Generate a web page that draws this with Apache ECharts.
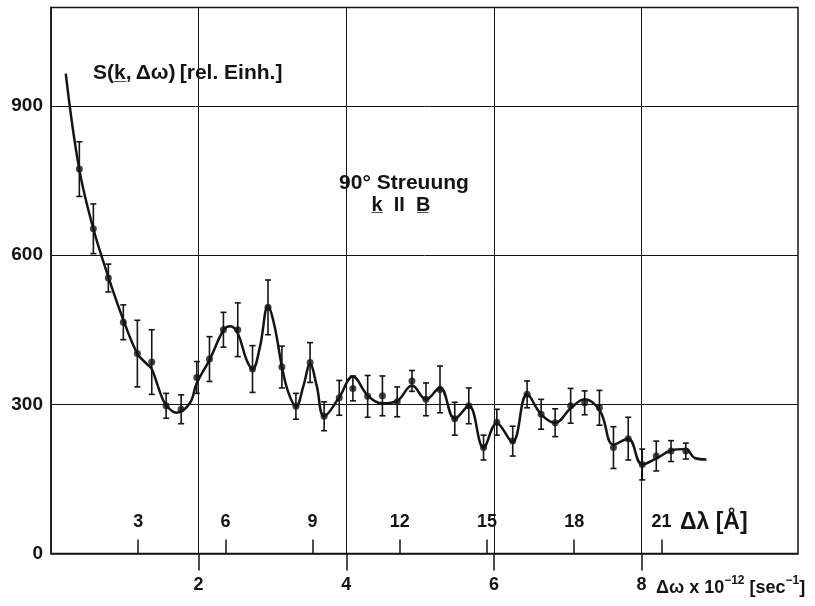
<!DOCTYPE html>
<html><head><meta charset="utf-8">
<script src="https://cdn.jsdelivr.net/npm/echarts@6/dist/echarts.min.js"></script>
<style>html,body{margin:0;padding:0;background:#fff}#c{width:815px;height:606px}</style>
</head><body><div id="c"></div>
<script>
// Measured points (Δω ×10^12 s^-1, S in rel. units, ± error)
const pointX = [0.384,0.574,0.777,0.98,1.17,1.365,1.56,1.763,1.975,2.147,2.336,2.53,2.73,2.94,3.128,3.318,3.51,3.70,3.905,4.09,4.29,4.49,4.69,4.89,5.08,5.27,5.47,5.66,5.86,6.04,6.255,6.45,6.64,6.83,7.04,7.23,7.43,7.62,7.82,8.01,8.20,8.40,8.60];
const pointY = [773,653,554,465,402,385,297,290,354,391,450,450,371,495,375,296,384,276,313,332,316,317,305,347,310,330,271,297,213,264,226,320,280,263,297,303,293,213,231,179,196,206,206];
const pointErr = [55,50,28,35,67,65,25,29,32,45,35,54,47,55,42,26,40,29,35,25,42,40,30,21,33,47,33,36,25,26,30,27,30,28,35,24,35,42,43,31,30,21,16];
// Hand-drawn fitted curve
const curveX = [0.20,0.38,0.57,0.78,0.98,1.17,1.30,1.365,1.48,1.56,1.70,1.88,1.975,2.15,2.34,2.43,2.53,2.65,2.73,2.83,2.94,3.03,3.13,3.22,3.32,3.42,3.51,3.60,3.70,3.90,4.09,4.29,4.49,4.69,4.89,5.08,5.27,5.47,5.66,5.86,6.04,6.25,6.45,6.64,6.83,7.04,7.23,7.44,7.62,7.82,8.01,8.21,8.40,8.60,8.72,8.88];
const curveY = [965,775,655,555,470,402,381,371,323,298,283,302,343,390,450,457,443,389,371,415,497,456,374,322,296,337,381,337,276,313,356,318,302,307,338,310,334,271,297,213,262,224,320,280,263,292,310,286,219,231,179,192,207,210,192,189];
// Axis ticks
const omegaTicks = [2,4,6,8];
const lambdaTicks = [3,6,9,12,15,18,21];
const yTicks = [0,300,600,900];

const INK = '#141414';
const FONT = '"Liberation Sans", Arial, sans-serif';
const chart = echarts.init(document.getElementById('c'), null, {renderer:'canvas'});
const option = {
  backgroundColor:'#ffffff',
  animation:false,
  grid:{left:51,right:17,top:7.5,bottom:52.5,show:true,borderColor:INK,borderWidth:1.5,backgroundColor:'transparent'},
  xAxis:[
    {type:'value',min:0,max:10.12,interval:2,position:'bottom',
     axisLine:{show:true,onZero:false,lineStyle:{color:INK,width:1.5}},
     axisTick:{show:true,customValues:omegaTicks,length:17,lineStyle:{color:INK,width:1.5}},
     axisLabel:{customValues:omegaTicks,margin:23,color:INK,fontSize:18,fontWeight:'bold',fontFamily:FONT},
     splitLine:{show:false}},
    {type:'value',min:0,max:25.7,interval:3,position:'bottom',
     axisLine:{show:false},
     axisTick:{show:true,inside:true,customValues:lambdaTicks,length:14,lineStyle:{color:INK,width:1.5}},
     axisLabel:{inside:true,customValues:lambdaTicks,margin:22,color:INK,fontSize:18,fontWeight:'bold',fontFamily:FONT},
     splitLine:{show:false}}
  ],
  yAxis:{type:'value',min:0,max:1098,interval:300,
     axisLine:{show:true,lineStyle:{color:INK,width:1.5}},
     axisTick:{show:false},
     axisLabel:{customValues:yTicks,margin:8,color:INK,fontSize:19,fontWeight:'bold',fontFamily:FONT},
     splitLine:{show:true,lineStyle:{color:INK,width:1}}},
  series:[
    {type:'line',xAxisIndex:0,data:curveX.map((x,i)=>[x,curveY[i]]),smooth:0.4,showSymbol:false,
     lineStyle:{color:INK,width:2.5},z:4,
     markLine:{silent:true,symbol:['none','none'],label:{show:false},
       lineStyle:{color:INK,width:1,type:'solid'},
       data:omegaTicks.map(v=>({xAxis:v}))}},
    {type:'custom',xAxisIndex:0,
     data:pointX.map((x,i)=>[x,pointY[i]-pointErr[i],pointY[i]+pointErr[i]]),
     encode:{x:0,y:[1,2]},
     renderItem:(params,api)=>{
       const lo=api.coord([api.value(0),api.value(1)]);
       const hi=api.coord([api.value(0),api.value(2)]);
       const w=3, st={stroke:INK,lineWidth:1.6};
       return {type:'group',children:[
         {type:'line',shape:{x1:lo[0],y1:lo[1],x2:hi[0],y2:hi[1]},style:st},
         {type:'line',shape:{x1:lo[0]-w,y1:lo[1],x2:lo[0]+w,y2:lo[1]},style:st},
         {type:'line',shape:{x1:hi[0]-w,y1:hi[1],x2:hi[0]+w,y2:hi[1]},style:st}
       ]};
     },z:3},
    {type:'scatter',xAxisIndex:0,data:pointX.map((x,i)=>[x,pointY[i]]),symbolSize:7,
     itemStyle:{color:INK},z:5}
  ],
  graphic:[
    {type:'text',x:93,y:73,style:{text:'S(k\u0332,\u2009Δω)\u2009[rel. Einh.]',font:'bold 21px '+FONT,fill:INK,verticalAlign:'middle'}},
    {type:'text',x:404,y:183,style:{text:'90° Streuung',font:'bold 21px '+FONT,fill:INK,align:'center',verticalAlign:'middle'}},
    {type:'text',x:401,y:205,style:{text:'k\u0332  II  B\u0332',font:'bold 20px '+FONT,fill:INK,align:'center',verticalAlign:'middle'}},
    {type:'text',x:680,y:523,style:{text:'Δλ [Å]',font:'bold 23px '+FONT,fill:INK,verticalAlign:'middle'}},
    {type:'text',x:656,y:586,style:{
      text:'{a|Δω x 10}{s|−12}{a| [sec}{s|−1}{a|]}',
      fill:INK,verticalAlign:'middle',
      rich:{
        a:{fontSize:18,fontWeight:'bold',fontFamily:FONT,fill:INK,lineHeight:22,verticalAlign:'bottom'},
        s:{fontSize:12,fontWeight:'bold',fontFamily:FONT,fill:INK,lineHeight:22,verticalAlign:'top'}
      }}}
  ]
};
chart.setOption(option);
</script></body></html>
